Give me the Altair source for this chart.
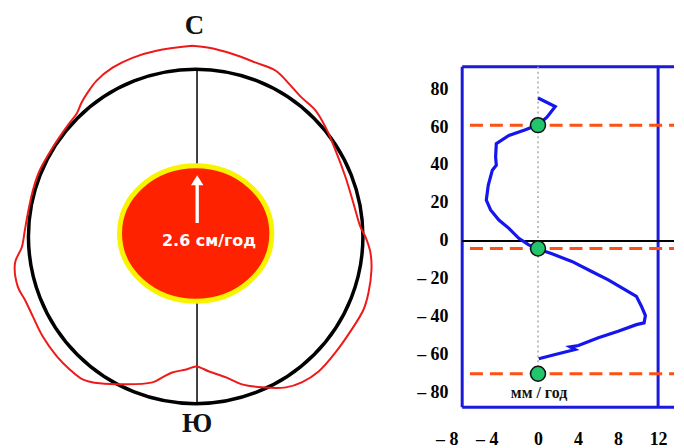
import altair as alt
import pandas as pd

# ---------------- left panel data (units of the black circle's radius; x east, y north) ----------------
contour_x = [-0.021, 0.080, 0.217, 0.360, 0.479, 0.557, 0.634, 0.717, 0.777, 0.836,
             0.896, 0.943, 0.985, 1.015, 1.045, 1.051, 1.033, 1.003, 0.932, 0.836,
             0.735, 0.634, 0.539, 0.396, 0.277, 0.182, 0.080, 0.003, -0.057, -0.140,
             -0.199, -0.259, -0.574, -0.676, -0.753, -0.830, -0.914, -0.973, -1.021, -1.063,
             -1.080, -1.039, -1.021, -1.003, -0.973, -0.932, -0.854, -0.765, -0.711, -0.682,
             -0.646, -0.592, -0.497, -0.378, -0.235, -0.021]
contour_y = [1.140, 1.128, 1.092, 1.039, 0.991, 0.914, 0.830, 0.753, 0.652, 0.515,
             0.354, 0.199, 0.057, -0.003, -0.098, -0.199, -0.336, -0.438, -0.557, -0.693,
             -0.807, -0.872, -0.902, -0.902, -0.884, -0.842, -0.807, -0.777, -0.795, -0.813,
             -0.842, -0.872, -0.878, -0.854, -0.795, -0.717, -0.598, -0.479, -0.378, -0.301,
             -0.158, -0.063, 0.039, 0.140, 0.277, 0.396, 0.533, 0.664, 0.735, 0.801,
             0.860, 0.932, 1.009, 1.068, 1.110, 1.140]
assert len(contour_x) == len(contour_y)
rate_label = "2.6 см/год"
pole_labels = ["С", "Ю"]

# ---------------- right panel data ----------------
profile_x = [0.0, 1.72, 0.89, 0.0, -1.26, -2.91, -4.17, -4.24, -4.17, -4.57,
             -4.97, -5.17, -4.74, -3.91, -2.91, -1.92, -0.93, 0.0, 1.39, 3.38,
             5.36, 7.02, 8.68, 9.83, 10.33, 10.73, 10.60, 9.83, 8.01, 6.03,
             4.04, 3.21, 3.71, 1.72, 0.07]
profile_y = [75.3, 70.8, 65.2, 61.2, 58.6, 55.6, 51.2, 44.2, 39.9, 37.2,
             29.4, 21.5, 16.3, 11.0, 6.6, 1.4, -2.1, -4.2, -6.8, -10.8,
             -16.1, -20.5, -25.7, -29.2, -34.4, -39.3, -43.2, -44.1, -47.6, -51.0,
             -55.1, -55.8, -57.2, -59.8, -62.1]
assert len(profile_x) == len(profile_y)
levels = [61, -4, -70]
x_ticks = [-8, -4, 0, 4, 8, 12]
y_ticks = [-80, -60, -40, -20, 0, 20, 40, 60, 80]
unit_label = "мм / год"

LABEL_FONT = "Liberation Serif"

# ---------------- left panel ----------------
L_X = [-1.122, 1.211]
L_Y = [-1.211, 1.360]
lx = alt.Scale(domain=L_X, nice=False, zero=False)
ly = alt.Scale(domain=L_Y, nice=False, zero=False)
LXE = alt.X("x:Q", scale=lx, axis=None)
LYE = alt.Y("y:Q", scale=ly, axis=None)

R_PX = 168  # circle radius in px (scale: 168 px per unit)

circle = alt.Chart(pd.DataFrame({"x": [0.0], "y": [0.0]})).mark_point(
    shape="circle", size=(2 * R_PX) ** 2, filled=False, color="black",
    strokeWidth=3.5, opacity=1).encode(x=LXE, y=LYE)

meridian = alt.Chart(pd.DataFrame({"x": [0.008], "y": [-1.0], "y2": [1.0]})).mark_rule(
    color="black", strokeWidth=1.5).encode(x=LXE, y=LYE, y2="y2:Q")

contour = alt.Chart(pd.DataFrame({"x": contour_x, "y": contour_y,
                                  "i": list(range(len(contour_x)))})).mark_line(
    color="#ee1a1a", strokeWidth=2, interpolate="catmull-rom").encode(
    x=LXE, y=LYE, order="i:Q")

ELLIPSE = ("M -1 0 C -1 -0.491 -0.552 -0.889 0 -0.889 C 0.552 -0.889 1 -0.491 1 0 "
           "C 1 0.491 0.552 0.889 0 0.889 C -0.552 0.889 -1 0.491 -1 0 Z")
core = alt.Chart(pd.DataFrame({"x": [0.0], "y": [0.018]})).mark_point(
    shape=ELLIPSE, size=153 ** 2, filled=True, fill="#ff2200", stroke="#f8f400",
    strokeWidth=5, opacity=1).encode(x=LXE, y=LYE)

ARROW = "M 0 -1 L 0.26 -0.58 L 0.07 -0.58 L 0.07 1 L -0.07 1 L -0.07 -0.58 L -0.26 -0.58 Z"
arrow = alt.Chart(pd.DataFrame({"x": [0.009], "y": [0.223]})).mark_point(
    shape=ARROW, size=48 ** 2, filled=True, fill="white", strokeWidth=0,
    opacity=1).encode(x=LXE, y=LYE)

rate = alt.Chart(pd.DataFrame({"x": [0.080], "y": [-0.027], "t": [rate_label]})).mark_text(
    font="DejaVu Sans", fontWeight="bold", fontSize=16, color="white",
    baseline="middle", align="center").encode(x=LXE, y=LYE, text="t:N")

poles = alt.Chart(pd.DataFrame({"x": [-0.007, 0.009], "y": [1.211, -1.170],
                                "t": pole_labels})).mark_text(
    font=LABEL_FONT, fontWeight="bold", fontSize=27, color="#111111",
    baseline="alphabetic", align="center").encode(x=LXE, y=LYE, text="t:N")

left = alt.layer(circle, meridian, contour, core, arrow, rate, poles).properties(
    width=392, height=432)

# ---------------- right panel ----------------
R_X = [-8.1, 13.59]
R_Y = [-87.6, 122.2]
F_LEFT, F_RIGHT, F_TOP, F_BOTTOM, F_INNER = -7.58, 13.59, 91.8, -87.6, 12
rx = alt.Scale(domain=R_X, nice=False, zero=False)
ry = alt.Scale(domain=R_Y, nice=False, zero=False)

neg_expr = "datum.value < 0 ? '– ' + abs(datum.value) : datum.label"
axis_style = dict(title=None, labelExpr=neg_expr, labelFont=LABEL_FONT,
                  labelFontWeight=700, labelFontSize=18, labelColor="black",
                  ticks=False, domain=False, grid=False)
x_axis = alt.Axis(values=x_ticks, labelPadding=23,
                  labelAlign={"condition": {"test": "datum.value < 0", "value": "right"},
                              "value": "center"}, **axis_style)
y_axis = alt.Axis(values=y_ticks, labelPadding=9, minExtent=40, maxExtent=40, **axis_style)
RXE = alt.X("x:Q", scale=rx, axis=x_axis)
RYE = alt.Y("y:Q", scale=ry, axis=y_axis)

frame = alt.Chart(pd.DataFrame({
    "x": [F_LEFT, F_LEFT, F_LEFT, F_INNER],
    "x2": [F_LEFT, F_RIGHT, F_RIGHT, F_INNER],
    "y": [F_BOTTOM, F_TOP, F_BOTTOM, F_BOTTOM],
    "y2": [F_TOP, F_TOP, F_BOTTOM, F_TOP],
})).mark_rule(color="#1a1ad8", strokeWidth=3).encode(x=RXE, x2="x2:Q", y=RYE, y2="y2:Q")

dotted = alt.Chart(pd.DataFrame({"x": [0.0], "y": [F_TOP], "y2": [levels[-1]]})).mark_rule(
    color="#aaaaaa", strokeWidth=1.5, strokeDash=[2, 3]).encode(x=RXE, y=RYE, y2="y2:Q")

zero_line = alt.Chart(pd.DataFrame({"x": [F_LEFT], "x2": [F_RIGHT], "y": [0.0]})).mark_rule(
    color="black", strokeWidth=2).encode(x=RXE, x2="x2:Q", y=RYE)

dashed = alt.Chart(pd.DataFrame({"x": [-6.8] * len(levels), "x2": [F_RIGHT] * len(levels),
                                 "y": levels})).mark_rule(
    color="#ff5014", strokeWidth=3, strokeDash=[13, 7]).encode(x=RXE, x2="x2:Q", y=RYE)

profile = alt.Chart(pd.DataFrame({"x": profile_x, "y": profile_y,
                                  "i": list(range(len(profile_x)))})).mark_line(
    color="#1515ee", strokeWidth=3.2).encode(x=RXE, y=RYE, order="i:Q")

dots = alt.Chart(pd.DataFrame({"x": [0.0] * len(levels), "y": levels})).mark_point(
    shape="circle", size=225, filled=True, fill="#22c46c", stroke="#111111",
    strokeWidth=1.5, opacity=1).encode(x=RXE, y=RYE)

unit = alt.Chart(pd.DataFrame({"x": [0.1], "y": [-80.0], "t": [unit_label]})).mark_text(
    font=LABEL_FONT, fontWeight="bold", fontSize=16, color="#111111",
    baseline="middle", align="center").encode(x=RXE, y=RYE, text="t:N")

right = alt.layer(frame, dotted, zero_line, dashed, profile, dots, unit).properties(
    width=218, height=400)

chart = alt.hconcat(left, right, spacing=18).properties(
    padding=0, background="white"
).configure_view(stroke=None).configure_axis(
    labelFont=LABEL_FONT, labelFontWeight=700, labelFontSize=18,
    labelColor="black", ticks=False, domain=False, grid=False
)

chart.save("out.html", embed_options={"renderer": "svg", "actions": False})
